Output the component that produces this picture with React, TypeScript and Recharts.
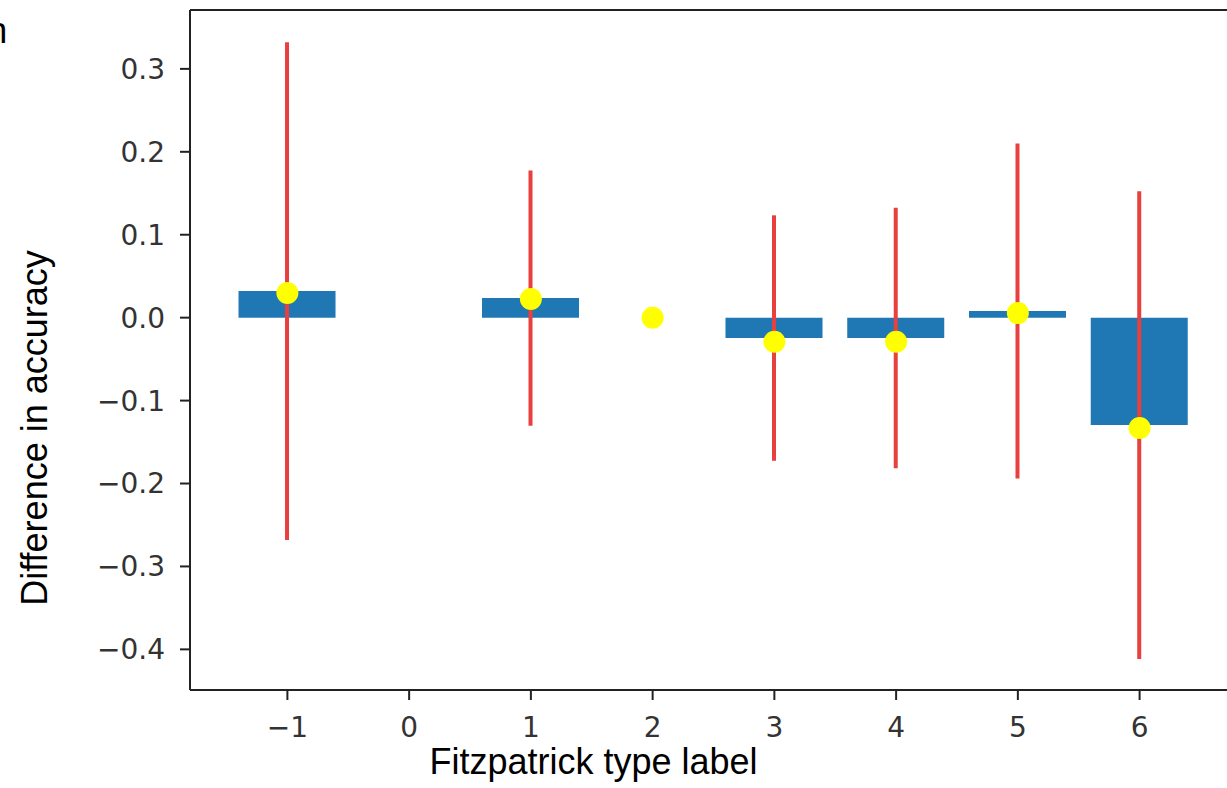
import {
  ComposedChart,
  Bar,
  Scatter,
  ErrorBar,
  XAxis,
  YAxis,
  ReferenceLine,
} from 'recharts'

// Fitzpatrick type labels and values
const types = [-1, 1, 2, 3, 4, 5, 6]
const barValues = [0.032, 0.0236, 0, -0.0246, -0.0246, 0.008, -0.1295]
const pointValues = [0.0297, 0.0224, 0, -0.029, -0.029, 0.0055, -0.133]
const errors = [0.3, 0.154, 0, 0.148, 0.157, 0.202, 0.282]

const xTicks = [-1, 0, 1, 2, 3, 4, 5, 6]
const yTicks = [-0.4, -0.3, -0.2, -0.1, 0, 0.1, 0.2, 0.3]

const xDomain = [-1.8, 6.8]
const yDomain = [-0.449, 0.371]

const data = types.map((t, i) => ({
  type: t,
  bar: barValues[i],
  point: pointValues[i],
  err: errors[i],
}))

const axisColor = '#222'
const tickFont = { fontFamily: 'DejaVu Sans', fontSize: 28, fill: '#333' }
const labelFont = 'Liberation Sans'

const fmtY = (v: number) => (v < 0 ? '\u2212' + Math.abs(v).toFixed(1) : v.toFixed(1))
const fmtX = (v: number) => (v < 0 ? '\u2212' + Math.abs(v) : String(v))

const YLabel = (props: any) => {
  const vb = props.viewBox
  const x = vb.x + 47
  const y = vb.y + vb.height / 2 + 78
  return (
    <text
      x={x}
      y={y}
      transform={`rotate(-90, ${x}, ${y})`}
      textAnchor="middle"
      fontFamily={labelFont}
      fontSize={36}
      fill="#000"
    >
      Difference in accuracy
    </text>
  )
}

const XLabel = (props: any) => {
  const vb = props.viewBox
  return (
    <text
      x={vb.x + 403.5}
      y={vb.y + 84}
      textAnchor="middle"
      fontFamily={labelFont}
      fontSize={36}
      fill="#000"
    >
      Fitzpatrick type label
    </text>
  )
}

const Dot = (props: any) => <circle cx={props.cx} cy={props.cy} r={11} fill="#ffff00" />

export default function App() {
  return (
    <div
      style={{
        position: 'absolute',
        left: 0,
        top: 0,
        width: 1227,
        height: 788,
        overflow: 'hidden',
        background: '#fff',
      }}
    >
      {/* tail of a cut-off word at the top left */}
      <svg width={20} height={60} style={{ position: 'absolute', left: 0, top: 0 }}>
        <text x={-12.7} y={43} fontFamily={labelFont} fontSize={36} fill="#000">
          n
        </text>
      </svg>
      <ComposedChart
        width={1237}
        height={788}
        data={data}
        margin={{ top: 10, right: 0, bottom: 0, left: 0 }}
      >
        <XAxis
          dataKey="type"
          type="number"
          domain={xDomain}
          ticks={xTicks}
          allowDataOverflow
          interval={0}
          height={98}
          tickFormatter={fmtX}
          tick={tickFont}
          tickSize={10}
          tickMargin={17}
          axisLine={{ stroke: axisColor, strokeWidth: 2 }}
          tickLine={{ stroke: axisColor, strokeWidth: 2 }}
          label={<XLabel />}
        />
        <YAxis
          type="number"
          domain={yDomain}
          ticks={yTicks}
          allowDataOverflow
          interval={0}
          width={190}
          tickFormatter={fmtY}
          tick={tickFont}
          tickSize={10}
          tickMargin={15}
          axisLine={{ stroke: axisColor, strokeWidth: 2 }}
          tickLine={{ stroke: axisColor, strokeWidth: 2 }}
          label={<YLabel />}
        />
        <ReferenceLine y={yDomain[1]} stroke={axisColor} strokeWidth={2} ifOverflow="visible" />
        <Bar dataKey="bar" fill="#1f77b4" barSize={97} isAnimationActive={false}>
          <ErrorBar
            dataKey="err"
            direction="y"
            width={0}
            stroke="#e8403f"
            strokeWidth={4}
          />
        </Bar>
        <Scatter dataKey="point" shape={<Dot />} isAnimationActive={false} />
      </ComposedChart>
    </div>
  )
}
